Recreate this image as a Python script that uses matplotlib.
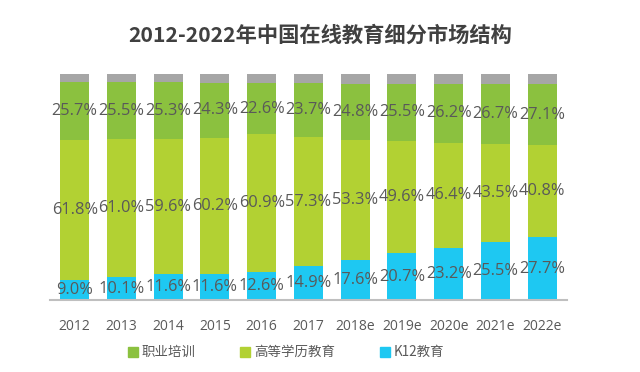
import matplotlib
matplotlib.use("Agg")
import matplotlib.pyplot as plt
from matplotlib.patches import Patch
import numpy as np

years = ["2012", "2013", "2014", "2015", "2016", "2017", "2018e", "2019e", "2020e", "2021e", "2022e"]
k12 = [9.0, 10.1, 11.6, 11.6, 12.6, 14.9, 17.6, 20.7, 23.2, 25.5, 27.7]
higher = [61.8, 61.0, 59.6, 60.2, 60.9, 57.3, 53.3, 49.6, 46.4, 43.5, 40.8]
voc = [25.7, 25.5, 25.3, 24.3, 22.6, 23.7, 24.8, 25.5, 26.2, 26.7, 27.1]
other = [100 - a - b - c for a, b, c in zip(k12, higher, voc)]

c_voc = "#8BC13F"
c_high = "#B2D133"
c_k12 = "#1EC8F2"
c_other = "#A6A6A6"
txt = "#595959"

plt.rcParams["font.family"] = ["Open Sans", "Noto Sans CJK SC", "DejaVu Sans"]

fig = plt.figure(figsize=(6.4, 3.72), dpi=100)
ax = fig.add_axes([0.078, 0.1935, 0.808, 0.607])

x = np.arange(len(years))
w = 0.62
b1 = ax.bar(x, k12, w, color=c_k12)
b2 = ax.bar(x, higher, w, bottom=k12, color=c_high)
bot3 = [a + b for a, b in zip(k12, higher)]
b3 = ax.bar(x, voc, w, bottom=bot3, color=c_voc)
bot4 = [a + b for a, b in zip(bot3, voc)]
ax.bar(x, other, w, bottom=bot4, color=c_other)

for bars, vals in ((b1, k12), (b2, higher), (b3, voc)):
    ax.bar_label(bars, labels=[f"{v:.1f}%" for v in vals], label_type="center",
                 color=txt, fontsize=11.8)

ax.set_xlim(-0.53, 10.53)
ax.set_ylim(0, 100)
ax.set_xticks(x)
ax.set_xticklabels(years, fontsize=10, color=txt)
ax.tick_params(axis="x", length=0, pad=14)
ax.set_yticks([])
for s in ("left", "right", "top"):
    ax.spines[s].set_visible(False)
ax.spines["bottom"].set_color("#BFBFBF")
ax.spines["bottom"].set_linewidth(1.5)

fig.text(0.5, 0.905, "2012-2022年中国在线教育细分市场结构", ha="center", va="center",
         fontsize=15.3, fontweight="bold", color="#404040", family=["Noto Sans CJK SC"])

handles = [Patch(color=c_voc), Patch(color=c_high), Patch(color=c_k12)]
fig.legend(handles, ["职业培训", "高等学历教育", "K12教育"], loc="center",
           bbox_to_anchor=(0.447, 0.053), ncol=3, frameon=False,
           handlelength=0.75, handleheight=0.75, handletextpad=0.3,
           columnspacing=3.3, prop={"family": ["Noto Sans CJK SC"], "size": 9.7},
           labelcolor=txt)

fig.savefig("out.png", dpi=100)
